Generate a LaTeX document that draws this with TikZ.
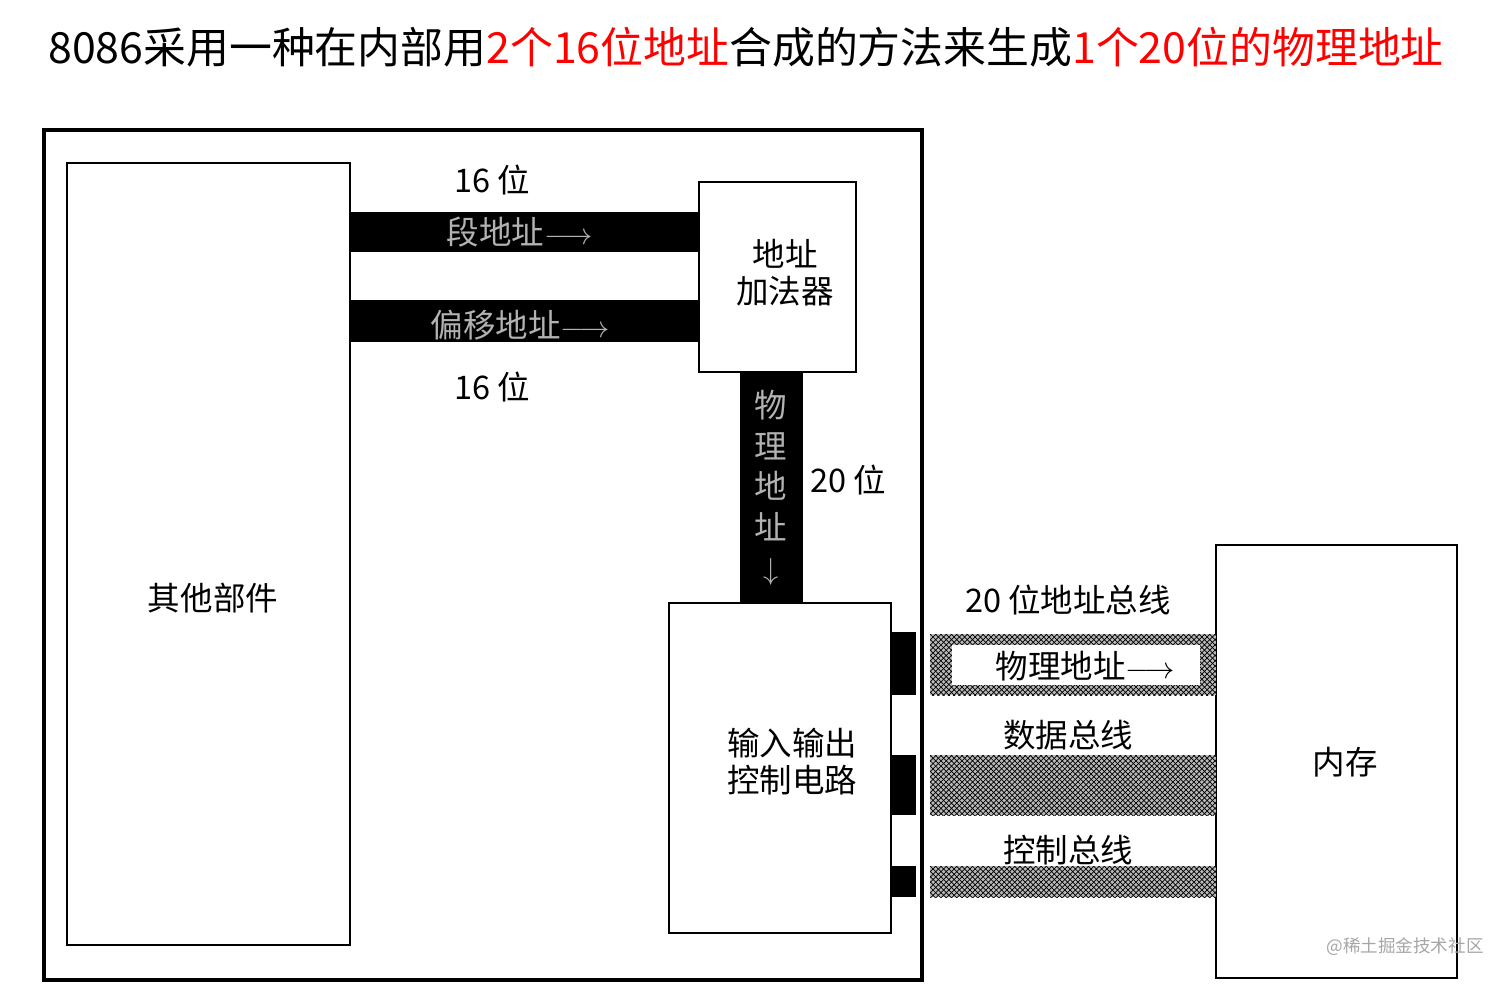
\documentclass[tikz,border=0pt]{standalone}
\usepackage{fontspec}
\setmainfont{Noto Sans CJK SC}
\usetikzlibrary{patterns}
\begin{document}
\begin{tikzpicture}[x=0.02cm,y=-0.02cm,
  box/.style={draw,line width=1.6pt,inner sep=0pt},
  lbl/.style={font=\fontsize{18.5pt}{21pt}\selectfont},
  bar/.style={fill=black},
  hatch/.style={fill=gray!55,postaction={pattern=crosshatch,pattern color=black}}]
\useasboundingbox (0,0) rectangle (1512,985);
\node[anchor=west,inner sep=0pt,font=\fontsize{24.4pt}{27pt}\selectfont] (title) at (48,47)
 {8086采用一种在内部用\textcolor{red}{2个16位地址}合成的方法来生成\textcolor{red}{1个20位的物理地址}};
\draw[line width=2pt] (44,130) rectangle (922,980);
\draw[box] (67,163) rectangle (350,945);
\node[lbl] (other) at (213,598) {其他部件};
\draw[box] (699,182) rectangle (856,372);
\node[lbl,align=center] (adder) at (785,273) {地址\\加法器};
% horizontal buses
\fill[bar] (350,212) rectangle (699,252);
\node[lbl,text=gray!60] (seg) at (520,232) {段地址$\longrightarrow$};
\fill[bar] (350,300) rectangle (699,342);
\node[lbl,text=gray!60] (off) at (520,325) {偏移地址$\longrightarrow$};
\node[lbl] (b16a) at (492,180) {16 位};
\node[lbl] (b16b) at (492,387) {16 位};
% vertical bus
\fill[bar] (740,372) rectangle (803,603);
\node[lbl,text=gray!60,align=center,font=\fontsize{18.5pt}{23pt}\selectfont] (phys) at (771,488) {物\\理\\地\\址\\$\downarrow$};
\node[lbl] (b20) at (848,480) {20 位};
% IO box
\draw[box] (669,603) rectangle (891,933);
\node[lbl,align=center] (io) at (792,762) {输入输出\\控制电路};
% memory
\draw[box] (1216,545) rectangle (1457,978);
\node[lbl] (mem) at (1345,762) {内存};
% right buses
\fill[bar] (891,632) rectangle (916,695);
\path[hatch] (930,634) rectangle (1216,695);
\fill[white] (952,645) rectangle (1200,685);
\node[lbl] (pa) at (1085,666) {物理地址$\longrightarrow$};
\fill[bar] (891,755) rectangle (916,815);
\path[hatch] (930,755) rectangle (1216,815);
\fill[bar] (891,866) rectangle (916,897);
\path[hatch] (930,866) rectangle (1216,897);
\node[lbl] (ab) at (1068,600) {20 位地址总线};
\node[lbl] (db) at (1068,735) {数据总线};
\node[lbl] (cb) at (1068,850) {控制总线};
\node[text=gray!70,font=\fontsize{10pt}{12pt}\selectfont] (wm) at (1405,947) {@稀土掘金技术社区};
\end{tikzpicture}
\end{document}
